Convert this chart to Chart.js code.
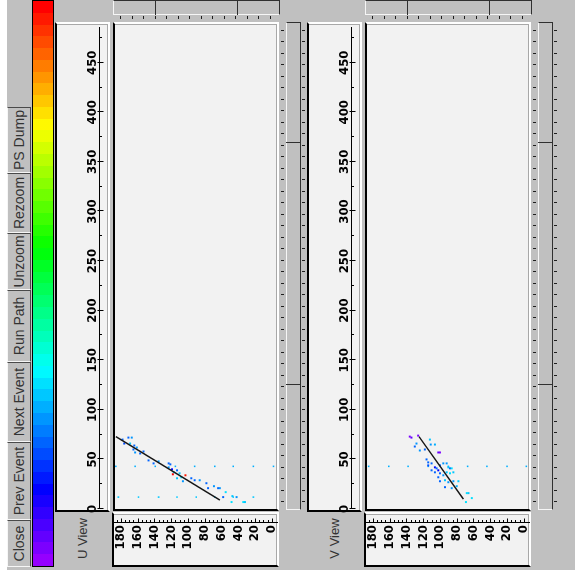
<!DOCTYPE html>
<html>
<head>
<meta charset="utf-8">
<title>Event display</title>
<script src="https://cdn.jsdelivr.net/npm/chart.js@4.4.1/dist/chart.umd.min.js"></script>
<style>
  html, body { margin:0; padding:0; background:#fff; overflow:hidden; width:575px; height:580px; }
  /* the display is laid out landscape and turned a quarter turn */
  #app { position:absolute; left:0; top:0; width:580px; height:575px;
         transform-origin:0 0; transform:translate(0,580px) rotate(-90deg);
         font-family:"Liberation Sans", Arial, sans-serif; }
  .box { position:absolute; box-sizing:border-box; }
  .grey { background:#c0c0c0; }
  .btn { border-style:solid; border-width:1px; border-color:#f6f6f6 #4a4a4a #4a4a4a #f6f6f6;
         background:#c0c0c0; color:#333; font-size:14px; line-height:22px; text-align:center; white-space:nowrap; }
  .sunken { border-style:solid; border-width:2px; border-color:#000 #fff #fff #000; background:#f2f2f2;
            box-shadow: inset -1px -1px 0 #a8a8a8; }
  .raised { border-style:solid; border-width:1px; border-color:#f6f6f6 #303030 #303030 #f6f6f6; background:#c0c0c0; }
  .viewlabel { color:#333; font-size:13px; text-align:center; line-height:55px; white-space:nowrap; }
  .mark { background:#1e1e1e; }
  .divider { background:#303030; }
  canvas { position:absolute; }
</style>
</head>
<body>
<div id="app"></div>
<script>
// ---- axis tick labels ----
const WIRE_TICKS = [0, 50, 100, 150, 200, 250, 300, 350, 400, 450];
const TIME_TICKS = [0, 20, 40, 60, 80, 100, 120, 140, 160, 180];

// ---- control buttons ----
const BUTTON_LABELS = ['Close', 'Prev Event', 'Next Event', 'Run Path', 'Unzoom', 'Rezoom', 'PS Dump'];

// ---- U view ----
const U_TRACK_WIRE = [73, 9];
const U_TRACK_TIME = [186, 62];
const U_HIT_WIRE = [70, 72, 72, 66, 66, 64, 62, 60, 57, 56, 58, 49, 46, 48, 46, 45, 42, 40, 37, 39, 36, 32, 31, 28, 35, 34, 31, 29, 29, 26, 21, 23, 21, 21, 17, 12, 13, 12, 7, 7, 7];
const U_HIT_TIME = [178, 171, 167, 176, 169, 164, 161, 165, 163, 157, 153, 147, 141, 135, 123, 121, 123, 119, 117, 113, 110, 108, 113, 106, 118, 103, 96, 92, 86, 78, 76, 69, 64, 62, 55, 58, 47, 42, 48, 34, 32];
const U_HIT_CHARGE = [21, 22, 26, 20, 31, 21, 26, 22, 27, 21, 22, 21, 22, 27, 21, 22, 26, 14, 32, 21, 31, 33, 30, 27, 98, 97, 21, 22, 26, 21, 22, 26, 21, 27, 32, 22, 31, 27, 33, 32, 31];
const U_NOISE_WIRE = [43, 43, 43, 43, 43, 43, 43, 43, 43, 12, 12, 12, 12, 12, 12, 12, 12];
const U_NOISE_TIME = [186, 163, 139, 115, 92, 68, 46, 22, -2, 183, 159, 135, 113, 90, 68, 46, 22];
const U_NOISE_CHARGE = [29, 29, 29, 29, 29, 29, 29, 29, 29, 30, 30, 30, 30, 30, 30, 30, 30];

// ---- V view ----
const V_TRACK_WIRE = [73, 10];
const V_TRACK_TIME = [125, 72];
const V_HIT_WIRE = [73, 72, 74, 66, 63, 70, 65, 65, 59, 60, 57, 57, 50, 47, 46, 42, 41, 44, 46, 46, 42, 41, 41, 44, 39, 37, 39, 36, 34, 37, 36, 37, 32, 28, 29, 27, 28, 28, 22, 21, 23, 16, 16, 11, 7];
const V_HIT_TIME = [136, 134, 126, 128, 130, 112, 111, 106, 124, 118, 102, 100, 116, 114, 110, 106, 104, 100, 96, 92, 90, 88, 86, 114, 110, 106, 102, 100, 96, 92, 88, 84, 102, 100, 94, 90, 84, 78, 94, 86, 80, 68, 66, 62, 69];
const V_HIT_CHARGE = [4, 5, 4, 26, 21, 30, 27, 28, 26, 21, 5, 4, 21, 22, 21, 14, 21, 22, 26, 27, 31, 21, 32, 20, 21, 22, 14, 21, 26, 31, 32, 31, 21, 22, 31, 27, 26, 30, 21, 27, 28, 32, 31, 33, 32];
const V_NOISE_WIRE = [43, 43, 43, 43, 43, 43, 43, 43, 43];
const V_NOISE_TIME = [185, 161, 138, 114, 90, 67, 44, 20, -3];
const V_NOISE_CHARGE = [29, 29, 29, 29, 29, 29, 29, 29, 29];

// ---- charge colour scale: violet (low) to red (high) in discrete steps ----
const PALETTE_STEPS = 48;
function stepColour(i) {
  const hue = 275 * (1 - i / (PALETTE_STEPS - 1));
  return 'hsl(' + hue.toFixed(1) + ',100%,50%)';
}
function chargeColour(q) {
  const i = Math.max(0, Math.min(PALETTE_STEPS - 1, Math.floor(q / 100 * PALETTE_STEPS)));
  return stepColour(i);
}

const app = document.getElementById('app');
function box(cls, left, top, width, height) {
  const d = document.createElement('div');
  d.className = 'box ' + cls;
  d.style.left = left + 'px'; d.style.top = top + 'px';
  d.style.width = width + 'px'; d.style.height = height + 'px';
  app.appendChild(d);
  return d;
}

// window background
box('grey', 10, 7, 570, 568);

// button row
const BUTTON_EDGES = [13, 60, 138, 218, 290, 347, 407, 473];
BUTTON_LABELS.forEach((label, i) => {
  const b = box('btn', BUTTON_EDGES[i], 7, BUTTON_EDGES[i + 1] - BUTTON_EDGES[i], 24);
  b.textContent = label;
});

// colour scale strip
const bar = box('', 13, 32, 567, 22);
bar.style.border = '1px solid #000';
const stops = [];
for (let i = 0; i < PALETTE_STEPS; i++) {
  const a = (i / PALETTE_STEPS * 100).toFixed(3), b = ((i + 1) / PALETTE_STEPS * 100).toFixed(3);
  stops.push(stepColour(i) + ' ' + a + '%', stepColour(i) + ' ' + b + '%');
}
bar.style.background = 'linear-gradient(to right,' + stops.join(',') + ')';

// draws the drift-time and wire ruler lines standing off the plot frame
const axisRules = {
  id: 'axisRules',
  afterDraw(chart) {
    const { ctx, chartArea: a, scales: { x, y } } = chart;
    ctx.save();
    ctx.strokeStyle = '#000';
    ctx.lineWidth = 1;
    ctx.beginPath();
    const tx = a.left - 13.5;
    ctx.moveTo(tx, a.top - 1); ctx.lineTo(tx, a.bottom + 2);
    for (let t = 0; t <= 185; t += 5) {
      const py = Math.round(y.getPixelForValue(t)) + 0.5;
      const major = TIME_TICKS.includes(t);
      ctx.moveTo(tx, py); ctx.lineTo(tx + (major ? 4 : 2.5), py);
    }
    const wy = a.top - 15.5;
    ctx.moveTo(a.left, wy); ctx.lineTo(a.right + 1, wy);
    for (let w = 0; w <= 475; w += 25) {
      const px = Math.round(x.getPixelForValue(w)) + 0.5;
      const major = WIRE_TICKS.includes(w);
      ctx.moveTo(px, wy - (major ? 2 : 0)); ctx.lineTo(px, wy + (major ? 4 : 2.5));
    }
    ctx.stroke();
    ctx.restore();
  }
};

const tickFont = { family: '"DejaVu Sans Condensed","DejaVu Sans",sans-serif', size: 13, weight: 'bold' };

function points(wires, times) {
  return wires.map((w, i) => ({ x: w, y: times[i] }));
}

function buildView(name, y0, v) {
  const lab = box('viewlabel', 13, y0, 57, 55);
  lab.textContent = name + ' View';
  box('sunken', 68, y0, 490, 55);            // wire ruler panel
  box('sunken', 13, y0 + 57, 55, 167);       // drift-time ruler panel
  box('sunken', 69, y0 + 58, 489, 166);      // plot frame

  // zoom slider at the far end
  box('raised', 565, y0 + 58, 15, 167);
  [100, 182].forEach(d => box('divider', 565, y0 + d, 15, 1));
  for (let k = 0; k < 14; k++) box('mark', 561, Math.round(y0 + 65 + k * 11.5), 3, 1);

  // zoom slider along the wire direction
  box('raised', 70, y0 + 231, 488, 15);
  [195, 437].forEach(d => box('divider', d, y0 + 231, 1, 15));
  for (let k = 0; k < 42; k++) {
    const xk = Math.round(549 - k * 11.5);
    box('mark', xk, y0 + 226, 1, 3);
    box('mark', xk, y0 + 247, 1, 3);
  }

  const cv = document.createElement('canvas');
  cv.width = 543; cv.height = 226;
  cv.style.left = '13px'; cv.style.top = y0 + 'px';
  app.appendChild(cv);

  new Chart(cv, {
    type: 'scatter',
    data: {
      datasets: [
        { label: 'track', data: points(v.trackWire, v.trackTime), showLine: true,
          borderColor: '#151515', borderWidth: 1.5, pointRadius: 0, order: 0 },
        { label: 'hits', data: points(v.hitWire, v.hitTime), pointStyle: 'rect',
          pointRadius: 1.4, pointBorderWidth: 0,
          pointBackgroundColor: v.hitCharge.map(chargeColour), order: 1 },
        { label: 'noise', data: points(v.noiseWire, v.noiseTime), pointStyle: 'rect',
          pointRadius: 1.1, pointBorderWidth: 0,
          pointBackgroundColor: v.noiseCharge.map(chargeColour), order: 2 }
      ]
    },
    options: {
      responsive: false, animation: false, devicePixelRatio: 1, events: [],
      layout: { padding: { top: 0, left: 0, right: 0, bottom: 5 } },
      plugins: { legend: { display: false }, tooltip: { enabled: false } },
      scales: {
        x: {
          type: 'linear', position: 'top', min: 0, max: 485,
          afterBuildTicks: s => { s.ticks = WIRE_TICKS.map(t => ({ value: t })); },
          afterFit: s => { s.height = 60; s.paddingLeft = 0; s.paddingRight = 0; },
          grid: { display: false, drawTicks: false }, border: { display: false },
          ticks: { autoSkip: false, maxRotation: 0, minRotation: 0, padding: 15, color: '#000', font: tickFont }
        },
        y: {
          type: 'linear', position: 'left', min: -5, max: 187,
          afterBuildTicks: s => { s.ticks = TIME_TICKS.map(t => ({ value: t })); },
          afterFit: s => { s.width = 58; s.paddingTop = 0; s.paddingBottom = 0; },
          grid: { display: false, drawTicks: false }, border: { display: false },
          ticks: { autoSkip: false, padding: 16, color: '#000', font: tickFont }
        }
      }
    },
    plugins: [axisRules]
  });
}

buildView('U', 55, {
  trackWire: U_TRACK_WIRE, trackTime: U_TRACK_TIME,
  hitWire: U_HIT_WIRE, hitTime: U_HIT_TIME, hitCharge: U_HIT_CHARGE,
  noiseWire: U_NOISE_WIRE, noiseTime: U_NOISE_TIME, noiseCharge: U_NOISE_CHARGE
});
buildView('V', 307, {
  trackWire: V_TRACK_WIRE, trackTime: V_TRACK_TIME,
  hitWire: V_HIT_WIRE, hitTime: V_HIT_TIME, hitCharge: V_HIT_CHARGE,
  noiseWire: V_NOISE_WIRE, noiseTime: V_NOISE_TIME, noiseCharge: V_NOISE_CHARGE
});
</script>
</body>
</html>
